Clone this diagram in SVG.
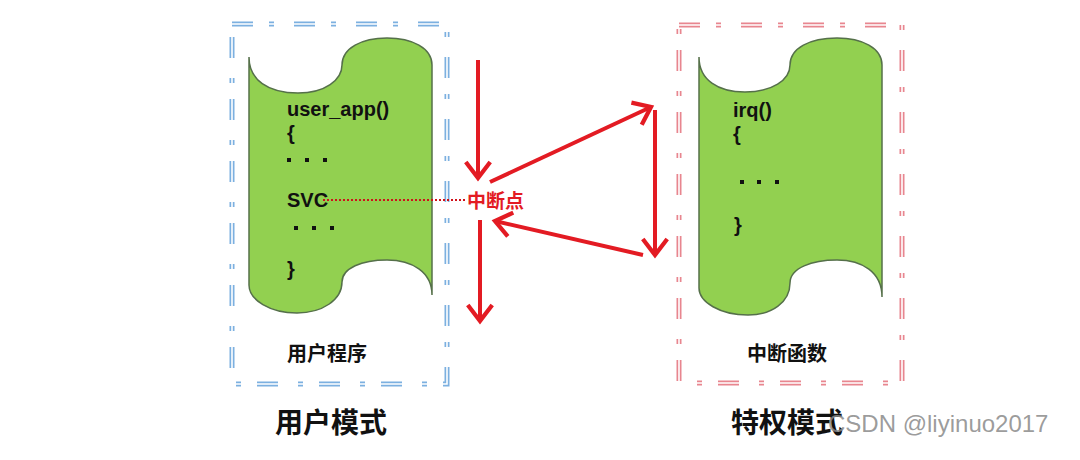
<svg xmlns="http://www.w3.org/2000/svg" width="1080" height="460" viewBox="0 0 1080 460">
  <defs>
    <style>
      .frame-blue { fill: none; stroke: #7cb0e0; stroke-width: 5; stroke-dasharray: 21 16 5 20; }
      .frame-red { fill: none; stroke: #e8868f; stroke-width: 5; stroke-dasharray: 21 16 5 20; }
      .frame-gap { fill: none; stroke: #ffffff; stroke-width: 1.6; stroke-dasharray: 21 16 5 20; }
      .tape { fill: #92d050; stroke: #55704a; stroke-width: 1.5; }
      .code { font-family: "Liberation Sans", Arial, sans-serif; font-weight: bold; font-size: 20px; fill: #111; }
      .cjk { font-family: "Noto Sans CJK SC", "Noto Sans", sans-serif; font-weight: bold; fill: #111; }
      .arrow { fill: none; stroke: #e31b23; stroke-width: 4; marker-end: url(#chev); }
      .dotline { fill: none; stroke: #d0101a; stroke-width: 2; stroke-dasharray: 2 2; }
      .dot { fill: #111; }
    </style>
    <marker id="chev" markerUnits="userSpaceOnUse" markerWidth="34" markerHeight="34" viewBox="-20 -16 24 32" refX="0" refY="0" orient="auto">
      <path d="M-15,-11.5 L0,0 L-15,11.5" fill="none" stroke="#e31b23" stroke-width="4" stroke-linejoin="miter"/>
    </marker>
  </defs>
  <rect width="1080" height="460" fill="#ffffff"/>

  <g id="user-frame">
    <rect class="frame-blue" x="232" y="24" width="215" height="360"/>
    <rect class="frame-gap" x="232" y="24" width="215" height="360"/>
    <text class="cjk" x="327" y="361" font-size="20" text-anchor="middle">用户程序</text>
  </g>

  <g id="user-program">
    <path class="tape" d="M249,57 C249,80 268,93 298,93 C325,93 342,80 342,65 C342,48 362,38 387,38 C412,38 432,48 432,65 L432,295 C432,272 412,260 387,260 C362,260 342,268 342,282 C342,300 322,313 297,313 C270,313 249,300 249,285 Z"/>
    <text class="code" x="287" y="116">user_app()</text>
    <text class="code" x="287" y="140">{</text>
    <rect class="dot" x="287" y="158" width="4" height="4"/>
    <rect class="dot" x="305" y="158" width="4" height="4"/>
    <rect class="dot" x="323" y="158" width="4" height="4"/>
    <text class="code" x="287" y="207">SVC</text>
    <rect class="dot" x="294" y="226" width="4" height="4"/>
    <rect class="dot" x="312" y="226" width="4" height="4"/>
    <rect class="dot" x="330" y="226" width="4" height="4"/>
    <text class="code" x="287" y="276">}</text>
  </g>

  <g id="irq-frame">
    <rect class="frame-red" x="679" y="25" width="223" height="358"/>
    <rect class="frame-gap" x="679" y="25" width="223" height="358"/>
    <text class="cjk" x="787" y="361" font-size="20" text-anchor="middle">中断函数</text>
  </g>

  <g id="irq-program">
    <path class="tape" d="M699,57 C699,80 718,92 745,92 C772,92 790,80 790,65 C790,48 810,38 837,38 C862,38 882,48 882,65 L882,297 C882,272 862,260 837,260 C812,260 790,268 790,283 C790,302 772,315 748,315 C720,315 699,302 699,288 Z"/>
    <text class="code" x="733" y="117">irq()</text>
    <text class="code" x="733" y="141">{</text>
    <rect class="dot" x="740" y="180" width="4" height="4"/>
    <rect class="dot" x="757" y="180" width="4" height="4"/>
    <rect class="dot" x="775" y="180" width="4" height="4"/>
    <text class="code" x="734" y="232">}</text>
  </g>

  <g id="breakpoint">
    <text x="467" y="208" font-family="Noto Sans CJK SC, Noto Sans, sans-serif" font-weight="bold" font-size="19" fill="#e31b23">中断点</text>
  </g>

  <g id="connectors">
    <line class="dotline" x1="323" y1="200" x2="465" y2="200"/>
    <line class="arrow" x1="478" y1="60" x2="478" y2="178"/>
    <line class="arrow" x1="490" y1="182" x2="651" y2="107"/>
    <line class="arrow" x1="655" y1="110" x2="655" y2="255"/>
    <line class="arrow" x1="643" y1="255" x2="495" y2="221"/>
    <line class="arrow" x1="480" y1="220" x2="480" y2="321"/>
  </g>

  <g id="mode-labels">
    <text class="cjk" x="331" y="433" font-size="28" text-anchor="middle">用户模式</text>
    <text class="cjk" x="787" y="433" font-size="28" text-anchor="middle">特权模式</text>
  </g>

  <text x="828" y="432" font-family="Liberation Sans, Arial, sans-serif" font-size="24" fill="#8a8a8a" fill-opacity="0.85">CSDN @liyinuo2017</text>
</svg>
